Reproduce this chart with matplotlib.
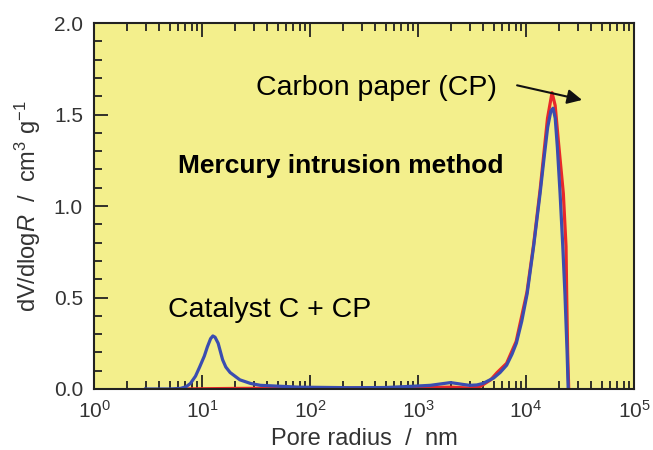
import numpy as np
import matplotlib
matplotlib.use("Agg")
import matplotlib.pyplot as plt
from matplotlib.ticker import LogLocator, MultipleLocator, NullFormatter

plt.rcParams['font.family'] = ['Liberation Sans', 'DejaVu Sans']
plt.rcParams['mathtext.fontset'] = 'custom'
plt.rcParams['mathtext.rm'] = 'Liberation Sans'
plt.rcParams['mathtext.it'] = 'Liberation Sans:italic'

# Catalyst C + CP (blue)
r_cat = [3.0, 5.0, 6.3, 7.1, 7.8, 8.7, 9.5, 10.5, 11.2, 12.0, 12.6, 13.2, 14.1,
         15.5, 16.6, 18.2, 22.4, 28.2, 34.7, 79, 234, 500, 900, 1300, 2000,
         2600, 3000, 3500, 3980, 5010, 5750, 6610, 7410, 8130, 9120, 10230,
         11750, 13490, 14790, 15850, 16980, 17780, 18620, 19500, 20650, 21880,
         22910, 23990, 24550]
v_cat = [0.0, 0.0, 0.003, 0.012, 0.03, 0.07, 0.12, 0.18, 0.23, 0.275, 0.29, 0.283, 0.25,
         0.16, 0.12, 0.09, 0.05, 0.03, 0.02, 0.01, 0.007, 0.008, 0.015, 0.02, 0.035,
         0.025, 0.02, 0.022, 0.03, 0.06, 0.09, 0.13, 0.19, 0.25, 0.37, 0.52,
         0.78, 1.07, 1.28, 1.43, 1.52, 1.535, 1.48, 1.32, 1.07, 0.78,
         0.52, 0.2, 0.0]

# Carbon paper (red)
r_cp = [6.5, 20, 100, 500, 1000, 2000, 3000, 3800, 4700, 5400, 6600, 8100, 10200,
        11750, 13500, 15800, 17400, 18600, 19950, 22130, 23440, 23770, 24270, 24830]
v_cp = [0.0, 0.003, 0.005, 0.005, 0.007, 0.01, 0.005, 0.015, 0.05, 0.09, 0.14, 0.26, 0.53,
        0.79, 1.09, 1.48, 1.62, 1.55, 1.35, 1.07, 0.78, 0.52, 0.2, 0.0]

yticks = [0.0, 0.5, 1.0, 1.5, 2.0]
label_color = '#333333'

fig = plt.figure(figsize=(6.53, 4.50), dpi=100)
ax = fig.add_axes([0.144, 0.1356, 0.827, 0.813])
ax.set_facecolor('#F3EF8C')

ax.plot(r_cp, v_cp, color='#E8282A', lw=2.3)
ax.plot(r_cat, v_cat, color='#3A4DB0', lw=2.3)

ax.set_xscale('log')
ax.set_xlim(1, 1e5)
ax.set_ylim(0, 2.0)
ax.set_yticks(yticks)
ax.set_yticklabels([f'{t:.1f}' for t in yticks])
ax.yaxis.set_minor_locator(MultipleLocator(0.1))
ax.xaxis.set_major_locator(LogLocator(base=10, numticks=10))
ax.xaxis.set_minor_locator(LogLocator(base=10, subs=np.arange(2, 10), numticks=10))
ax.xaxis.set_minor_formatter(NullFormatter())

for s in ax.spines.values():
    s.set_linewidth(1.5)
    s.set_color('#222222')

ax.tick_params(which='both', direction='in', top=True, right=False,
               width=1.3, color='#222222', labelcolor=label_color)
ax.tick_params(axis='y', labelsize=15)
ax.tick_params(axis='x', labelsize=15)
ax.tick_params(which='major', length=10, pad=8)
ax.tick_params(which='minor', length=5.5)

ax.set_xlabel('Pore radius  /  nm', fontsize=17, color=label_color, labelpad=4)
ax.set_ylabel(r'dV/dlog$R$  /  cm$^3$ g$^{-1}$', fontsize=17, color=label_color, labelpad=8)

ax.text(408, 1.645, 'Carbon paper (CP)', fontsize=20.5, ha='center', va='center')
ax.text(194, 1.22, 'Mercury intrusion method', fontsize=19, fontweight='bold',
        ha='center', va='center')
ax.text(42.5, 0.43, 'Catalyst C + CP', fontsize=20.5, ha='center', va='center')
ax.annotate('', xy=(33000, 1.58), xytext=(8260, 1.66),
            arrowprops=dict(arrowstyle='-|>', color='#111111', lw=1.5,
                            mutation_scale=22, shrinkA=0, shrinkB=0))

fig.savefig('out.png', dpi=100)
